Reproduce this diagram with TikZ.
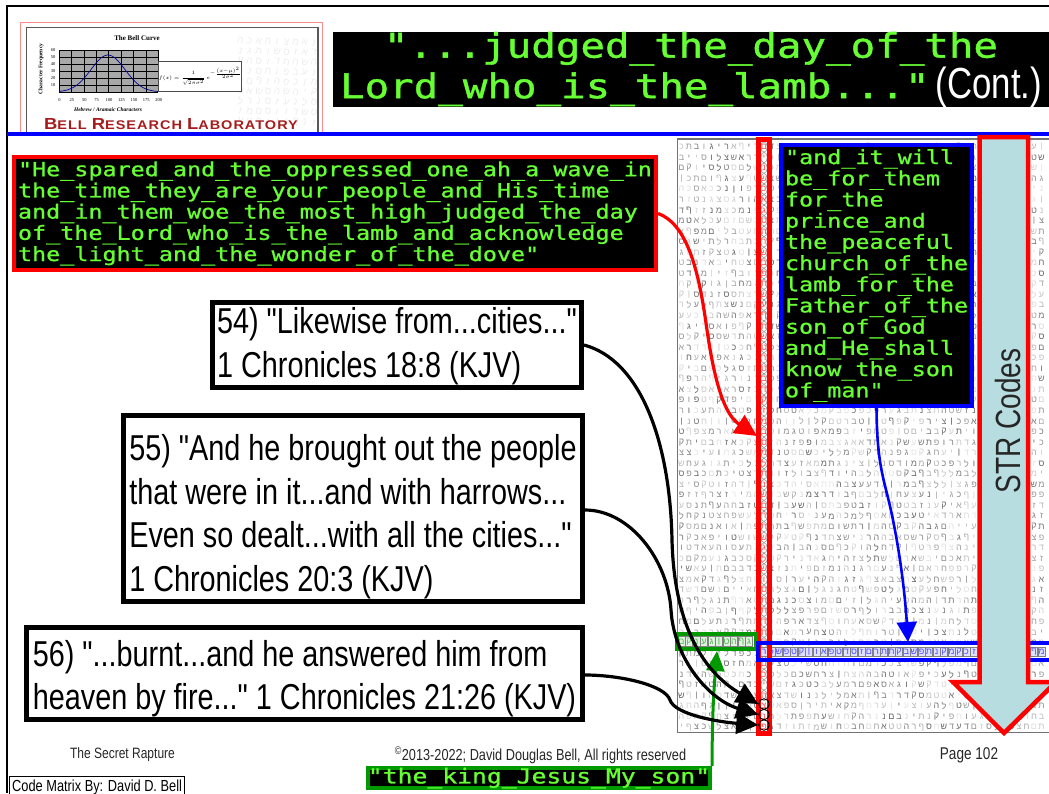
\documentclass[tikz,border=0pt]{standalone}
\usepackage{fontspec}
\usepackage{amsmath}
\usepackage{xcolor}
\usetikzlibrary{
  arrows.meta
}
\setmainfont{Liberation Sans}
\newfontfamily\titlefont[FakeStretch=1.2,FakeBold=1.2]{DejaVu Sans Mono}
\newfontfamily\codefont[FakeStretch=1.2,FakeBold=1.0]{DejaVu Sans Mono}
\newfontfamily\narrowfont[FakeStretch=0.8]{Liberation Sans}
\newfontfamily\labfont[FakeStretch=1.15,LetterSpace=8]{Liberation Sans}
\newfontfamily\serifsmall{Liberation Serif}
\newfontfamily\hebrewfont[Script=Hebrew]{Liberation Sans}
\definecolor{codegreen}{HTML}{66FF33}
\definecolor{kinggreen}{HTML}{009900}
\definecolor{strfill}{HTML}{B7DDE0}
\definecolor{labred}{HTML}{A61C1C}
\definecolor{plotgray}{HTML}{A8A8A8}
\pgfmathdeclarerandomlist{hebrew}{{א}{ב}{ג}{ד}{ה}{ו}{ז}{ח}{ט}{י}{כ}{ל}{מ}{נ}{ס}{ע}{פ}{צ}{ק}{ר}{ש}{ת}{ם}{ן}{ף}}
\pgfmathsetseed{1049}

\begin{document}
\begin{tikzpicture}[
    x=1pt, y=-1pt,
    every node/.style={inner sep=0pt},
    codebox/.style={
      rectangle, fill=black, text=codegreen, align=left,
      font=\fontsize{19.5}{21.2}\selectfont\codefont
    },
    versebox/.style={
      rectangle, draw=black, fill=white, line width=5pt, align=left,
      inner sep=3pt, font=\fontsize{36}{43.5}\selectfont\narrowfont
    },
    footer/.style={font=\fontsize{15}{18}\selectfont\narrowfont, text=black!85},
    cell/.style={font=\fontsize{9}{10}\selectfont\hebrewfont},
    tiny/.style={font=\fontsize{4.5}{6}\selectfont\serifsmall},
    hitmark/.style={circle, draw=black, line width=1pt, minimum size=10.5pt},
    quotearrow/.style={-{Triangle[length=22pt,width=21pt]}, line width=3.2pt, black},
    redarrow/.style={-{Triangle[length=22pt,width=21pt]}, line width=3.2pt, red},
    bluearrow/.style={-{Triangle[length=20pt,width=20pt]}, line width=2.6pt, blue},
    greenarrow/.style={-{Triangle[length=20pt,width=18pt]}, line width=3pt, kinggreen},
  ]
  \useasboundingbox (0,0) rectangle (1049,793);

  % --- Page frame ---
  \draw[line width=2pt, black] (1049,5.5) -- (6.5,5.5) -- (6.5,793);

  % --- Logo ---
  \draw[red!45, line width=1.2pt] (20.5,132) |- (322.5,22.5) -- (322.5,132);
  \draw[black!65, line width=1.5pt] (26.5,132) |- (318,27.5) -- (318,132);
  \foreach \row in {0,...,8}{
    \foreach \col in {22,...,30}{
      \pgfmathrandomitem{\letter}{hebrew}
      \node[font=\fontsize{10}{11}\selectfont\hebrewfont, text=black!7, rotate=-14]
        at ({38+9.2*\col},{36+\row*10+0.22*\col}) {\letter};
    }
  }
  \node[font=\fontsize{7}{8}\selectfont\serifsmall\bfseries] (belltitle) at (137,38) {The Bell Curve};
  \node[rotate=90, font=\fontsize{5.5}{6}\selectfont\serifsmall\bfseries] (ylabel) at (41,69) {Character Frequency};
  \node[font=\fontsize{5.5}{6}\selectfont\serifsmall\bfseries\itshape] (xlabel) at (108,110) {Hebrew / Aramaic Characters};
  \fill[plotgray] (59,50) rectangle (158,92);
  \foreach \gx in {59,71.4,...,158.5}{\draw[black, line width=.6pt] (\gx,50) -- (\gx,92);}
  \foreach \gy in {50,57,...,92}{\draw[black, line width=.6pt] (59,\gy) -- (158,\gy);}
  \draw[blue!60!black, line width=.7pt] plot[smooth, domain=59:158, samples=40]
    (\x,{92-37*exp(-((\x-108)*(\x-108))/(2*17*17))});
  \foreach \tick [count=\n from 0] in {60,50,40,30,20,10}{
    \node[tiny] at (53,{50+7*\n}) {\tick};
  }
  \foreach \tick [count=\n from 0] in {0,25,50,75,100,125,150,175,200}{
    \node[tiny] at ({59.5+12.4*\n},100) {\tick};
  }
  \node[draw=black!70, fill=white, line width=.8pt, minimum width=64pt, minimum height=30pt,
    font=\fontsize{5}{6}\selectfont] (formula) at (200,76)
    {$f(x)=\dfrac{1}{\sqrt{2\pi\sigma^2}}\,e^{-\frac{(x-\mu)^2}{2\sigma^2}}$};
  \node[text=labred, font=\fontsize{12.6}{14}\selectfont\labfont\bfseries] (lablogo) at (171,124.5)
    {{\fontsize{16}{14}\selectfont B}ELL {\fontsize{16}{14}\selectfont R}ESEARCH {\fontsize{16}{14}\selectfont L}ABORATORY};

  % --- Rule under the title ---
  \draw[blue, line width=4pt] (7,134) -- (1049,134);

  % --- Title ---
  \node[rectangle, fill=black, text=codegreen, align=center, minimum width=716pt,
    minimum height=75pt, font=\fontsize{34}{35.5}\selectfont\titlefont] (title) at (691,69.5)
    {"...judged\_the\_day\_of\_the\\
     Lord\_who\_is\_the\_lamb..."\hspace{6pt}{\narrowfont\fontsize{43.5}{35.5}\selectfont\color{white} (Cont.)}};

  % --- Code matrix ---
  \draw[black!55, line width=1.2pt] (1049,139) -- (677.5,139) -- (677.5,732.5) -- (1049,732.5);
  \foreach \row in {0,...,55}{
    \foreach \col in {-11,...,37}{
      \pgfmathrandomitem{\letter}{hebrew}
      \pgfmathtruncatemacro{\shade}{random(10,62)}
      \ifnum\col=0
        \node[cell, text=red!70] at ({764+7.5*\col},{147+10.55*\row}) {\letter};
      \else
        \node[cell, text=black!\shade] at ({764+7.5*\col},{147+10.55*\row}) {\letter};
      \fi
    }
  }
  \foreach \row in {0,...,52}{
    \draw[black!40, line width=.6pt] (764,{147+10.55*\row}) ellipse (3.2 and 5.2);
  }
  \foreach \col in {-11,...,-2}{
    \pgfmathrandomitem{\letter}{hebrew}
    \node[cell, draw=black!50, fill=kinggreen!12, text=kinggreen!70, line width=.6pt,
      minimum width=6.6pt, minimum height=9.5pt] at ({764+7.5*\col},641.5) {\letter};
  }
  \foreach \col in {0,...,37}{
    \pgfmathrandomitem{\letter}{hebrew}
    \node[cell, draw=black!50, fill=blue!12, text=blue!70, line width=.6pt,
      minimum width=6.6pt, minimum height=9.5pt] at ({764+7.5*\col},651.7) {\letter};
  }

  % --- Highlighted columns and rows ---
  \node[draw=red, line width=5pt, minimum width=11.5pt, minimum height=594pt] (redcolumn) at (764.2,436) {};
  \node[draw=kinggreen, line width=4pt, minimum width=79pt, minimum height=14.5pt] (greenrow) at (716,641.5) {};
  \node[draw=blue, line width=4pt, minimum width=300pt, minimum height=16.5pt] (bluerow) at (908,651.7) {};

  % --- STR arrow ---
  \draw[red, line width=4.5pt, fill=strfill, line join=miter]
    (979.5,137) -- (1028,137) -- (1028,682) -- (1056,682) -- (1004,733) -- (953,682) -- (979.5,682) -- cycle;
  \node[rotate=90, font=\fontsize{35}{40}\selectfont\narrowfont, text=black!85] (strlabel) at (1008,421) {STR Codes};

  % --- Code quotes ---
  \node[codebox, draw=red, line width=4pt, minimum width=642pt, minimum height=103pt,
    text width=634pt, inner sep=4pt] (redquote) at (335,213.5)
    {"He\_spared\_and\_the\_oppressed\_one\_ah\_a\_wave\_in\\
     the\_time\_they\_are\_your\_people\_and\_His\_time\\
     and\_in\_them\_woe\_the\_most\_high\_judged\_the\_day\\
     of\_the\_Lord\_who\_is\_the\_lamb\_and\_acknowledge\\
     the\_light\_and\_the\_wonder\_of\_the\_dove"};

  \node[codebox, draw=blue, line width=4pt, minimum width=191pt, minimum height=253pt,
    text width=183pt, inner sep=4pt] (bluequote) at (876.5,275.5)
    {"and\_it\_will\\
     be\_for\_them\\
     for\_the\\
     prince\_and\\
     the\_peaceful\\
     church\_of\_the\\
     lamb\_for\_the\\
     Father\_of\_the\\
     son\_of\_God\\
     and\_He\_shall\\
     know\_the\_son\\
     of\_man"};

  \node[codebox, draw=kinggreen, line width=4pt, minimum width=334pt, minimum height=20pt,
    font=\fontsize{20.6}{22}\selectfont\codefont] (kingquote) at (539,778)
    {"the\_king\_Jesus\_My\_son"};

  % --- Verses ---
  \node[versebox, minimum width=369pt, minimum height=83pt] (verseA) at (397,345)
    {\rule{0pt}{28pt}54) "Likewise from...cities..."\\
     1 Chronicles 18:8 (KJV)};
  \node[versebox, minimum width=459pt, minimum height=170pt] (verseB) at (353,508.5)
    {\rule{0pt}{42pt}55) "And he brought out the people\\
     that were in it...and with harrows...\\
     Even so dealt...with all the cities..."\\
     1 Chronicles 20:3 (KJV)};
  \node[versebox, minimum width=556pt, minimum height=82pt] (verseC) at (304.5,673.5)
    {\rule{0pt}{36pt}56) "...burnt...and he answered him from\\
     heaven by fire..." 1 Chronicles 21:26 (KJV)};

  % --- Marked letters ---
  \node[hitmark] (hitA) at (764,704) {};
  \node[hitmark] (hitB) at (764,714.5) {};
  \node[hitmark] (hitC) at (764,725) {};

  % --- Arrows ---
  \coordinate (redtip) at (757,436);
  \coordinate (bluetip) at (908,642);
  \coordinate (greentip) at (717,651);

  \draw[redarrow] (redquote.east) .. controls (690,225) and (700,280) .. (707,330)
    .. controls (715,385) and (725,415) .. (redtip);
  \draw[bluearrow] (bluequote.south) .. controls (877,470) and (885,480) .. (893,520)
    .. controls (903,570) and (906,610) .. (bluetip);
  \draw[greenarrow] (kingquote.north east) .. controls (712,730) and (713,700) .. (greentip);

  \draw[quotearrow] (verseA.east) .. controls (640,360) and (670,440) .. (672,540)
    .. controls (674,620) and (700,670) .. (hitA.west);
  \draw[quotearrow] (verseB.east |- 0,510) coordinate (startB) .. controls (630,510) and (668,560) .. (671,610)
    .. controls (674,660) and (710,700) .. (hitB.west);
  \draw[quotearrow] (verseC.east |- 0,675) coordinate (startC) .. controls (620,675) and (665,685) .. (670,700)
    .. controls (675,715) and (720,722) .. (hitC.west);

  % --- Footer ---
  \node[footer] (secret) at (122.5,755) {The Secret Rapture};
  \node[footer, font=\fontsize{15.9}{18}\selectfont\narrowfont] (rights) at (540.5,755)
    {\textsuperscript{\copyright}2013-2022; David Douglas Bell, All rights reserved};
  \node[footer, font=\fontsize{17}{18}\selectfont\narrowfont] (pagenum) at (969,755) {Page 102};
  \node[draw=black, line width=1.2pt, fill=white, minimum width=175pt, minimum height=22pt,
    anchor=north west, font=\fontsize{16}{18}\selectfont\narrowfont] (matrixby) at (9,776)
    {Code Matrix By: David D. Bell};
\end{tikzpicture}
\end{document}
